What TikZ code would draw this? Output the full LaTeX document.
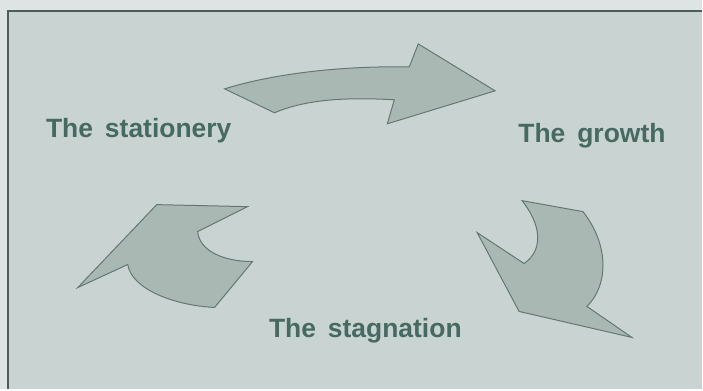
\documentclass[tikz,border=0pt]{standalone}
\usepackage{fontspec}
\setmainfont{Liberation Sans}
\definecolor{paper}{RGB}{222,228,227}
\definecolor{panel}{RGB}{201,212,210}
\definecolor{arrowfill}{RGB}{170,184,180}
\definecolor{arrowline}{RGB}{100,120,115}
\definecolor{frameline}{RGB}{78,92,90}
\definecolor{labeltext}{RGB}{70,106,98}
\newcommand{\widespaces}{\spaceskip=0.45em plus 0.1em\relax}
\begin{document}
\begin{tikzpicture}[x=1pt, y=-1pt]
		
		% Define styles for the curved arrows and the phase labels
		\tikzstyle{phasearrow} = [draw=arrowline, line width=1pt, line join=miter, fill=arrowfill]
		\tikzstyle{phaselabel} = [anchor=base, inner sep=0pt, text=labeltext, 
		font=\fontsize{26.5}{30}\selectfont\bfseries, execute at begin node=\widespaces]
		
		% Page and panel
		\fill[paper] (0,0) rectangle (703,390);
		\fill[panel] (8,11) rectangle (703,390);
		\draw[frameline, line width=2.5pt] (703,11) -- (8,11) -- (8,390);
		\useasboundingbox (0,0) rectangle (703,390);
		
		% Labels
		\node[phaselabel] (stationery) at (139,138) {The stationery};
		\node[phaselabel] (growth) at (593,143) {The growth};
		\node[phaselabel] (stagnation) at (366,338) {The stagnation};
		
		% Arrow from the stationery to the growth
		\draw[phasearrow] (225,89) .. controls (280,72) and (350,66) .. (410,67)
		-- (419,44) -- (496,91) -- (388,124) -- (395,100)
		.. controls (345,97) and (305,100) .. (275,113) -- cycle;
		
		% Arrow from the growth to the stagnation
		\draw[phasearrow] (523,201) -- (584,212) .. controls (610,245) and (610,285) .. (588,307)
		-- (633,338) -- (520,312) -- (478,233) -- (525,264)
		.. controls (545,250) and (542,225) .. (523,201) -- cycle;
		
		% Arrow from the stagnation back to the stationery
		\draw[phasearrow] (78,288) -- (157,205) -- (248,207) -- (198,232)
		.. controls (200,252) and (225,262) .. (253,262) -- (215,308)
		.. controls (175,306) and (132,290) .. (128,265) -- cycle;
		
	\end{tikzpicture}
\end{document}
